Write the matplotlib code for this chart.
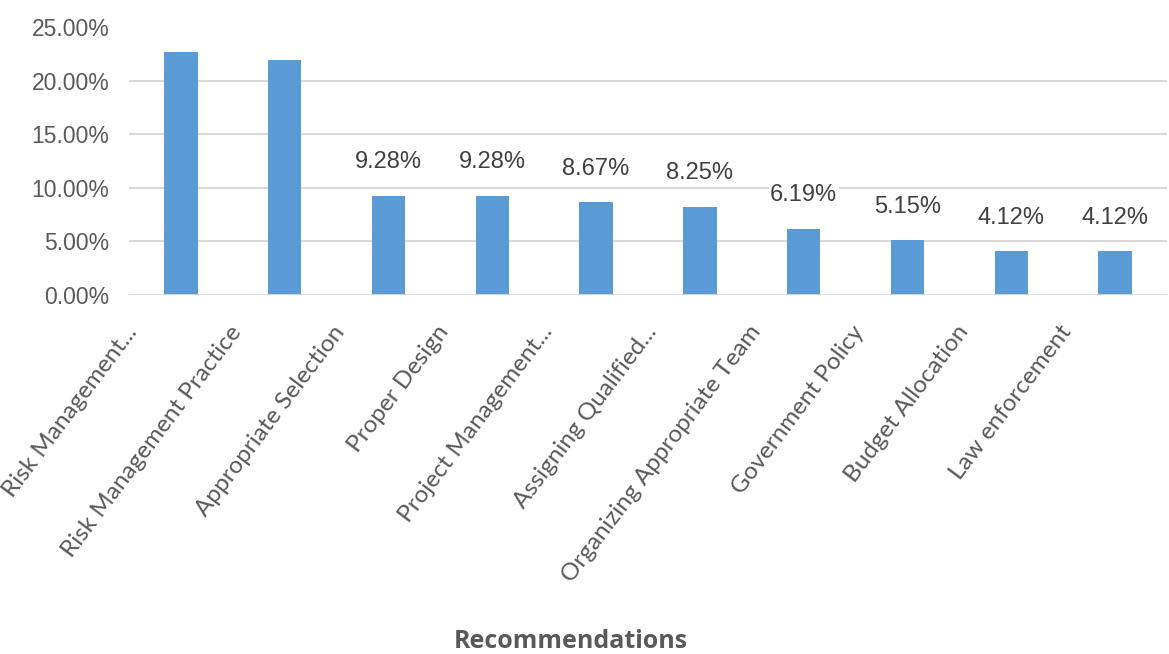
import matplotlib.pyplot as plt
import matplotlib.transforms as mtransforms
from matplotlib.ticker import FuncFormatter

categories = ['Risk Management...', 'Risk Management Practice', 'Appropriate Selection',
              'Proper Design', 'Project Management...', 'Assigning Qualified...',
              'Organizing Appropriate Team', 'Government Policy',
              'Budget Allocation', 'Law enforcement']
values = [22.68, 21.9, 9.28, 9.28, 8.67, 8.25, 6.19, 5.15, 4.12, 4.12]
# first two labels are not shown in the original
show_label = [False, False, True, True, True, True, True, True, True, True]
y_ticks = [0, 5, 10, 15, 20, 25]

bar_color = '#5B9BD5'
text_grey = '#595959'
grid_grey = '#D9D9D9'

fig = plt.figure(figsize=(11.69, 6.54), dpi=100)
ax = fig.add_axes([129 / 1169, 1 - 295 / 654, 1038 / 1169, (295 - 27) / 654])

x = range(len(categories))
bars = ax.bar(x, values, width=0.32, color=bar_color, zorder=3)

ax.set_xlim(-0.5, len(categories) - 0.5)
ax.set_ylim(0, 25)
ax.set_yticks(y_ticks)
ax.yaxis.set_major_formatter(FuncFormatter(lambda v, p: f'{v:.2f}%'))

# gridlines (no line at the top tick)
ax.hlines(y_ticks[1:-1], -0.5, len(categories) - 0.5, colors=grid_grey, lw=1.5, zorder=1)
ax.axhline(0, color=grid_grey, lw=2, zorder=4)

for s in ax.spines.values():
    s.set_visible(False)
ax.tick_params(axis='both', length=0)
ax.tick_params(axis='y', labelsize=16.5, labelcolor=text_grey, pad=14)
for lab in ax.get_yticklabels():
    lab.set_fontfamily('Liberation Sans')

ax.set_xticks(list(x))
ax.set_xticklabels(categories, rotation=53, ha='right', rotation_mode='anchor',
                   fontsize=17.5, color=text_grey, family='Lato')
ax.tick_params(axis='x', pad=12)
shift = mtransforms.ScaledTranslation(-56 / 100, -10 / 100, fig.dpi_scale_trans)
for lab in ax.get_xticklabels():
    lab.set_transform(lab.get_transform() + shift)

for b, v, show in zip(bars, values, show_label):
    if not show:
        continue
    ax.annotate(f'{v:.2f}%', (b.get_x() + b.get_width() / 2, v),
                xytext=(0, 16), textcoords='offset points', ha='center', va='bottom',
                fontsize=17, color='#404040', family='Liberation Sans', zorder=5,
                bbox=dict(facecolor='white', edgecolor='none', pad=1))

fig.text(571 / 1169, 1 - 642 / 654, 'Recommendations', ha='center', va='center',
         fontsize=18, fontweight='bold', color=text_grey, family='Open Sans')

fig.savefig('out.png', dpi=100)
